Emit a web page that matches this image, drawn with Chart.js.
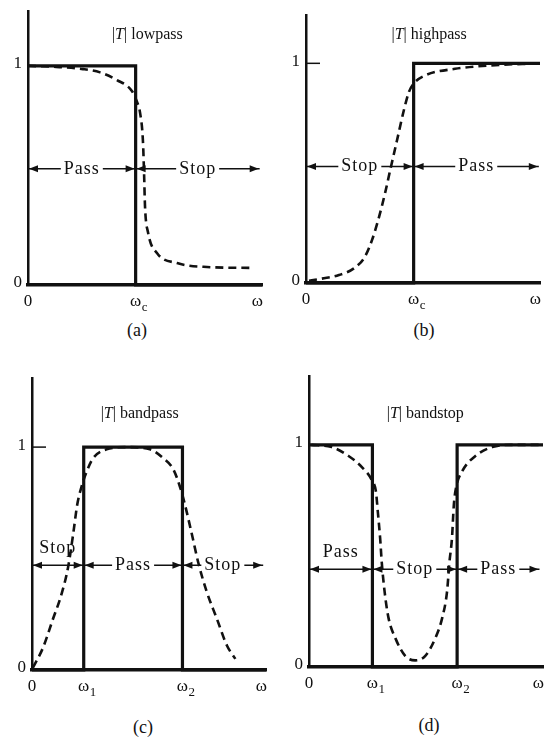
<!DOCTYPE html>
<html>
<head>
<meta charset="utf-8">
<script src="https://cdn.jsdelivr.net/npm/chart.js@4/dist/chart.umd.min.js"></script>
<style>
  html, body { margin: 0; padding: 0; background: #fff; }
  body {
    width: 544px; height: 738px; position: relative; overflow: hidden;
    font-family: "Liberation Serif", "DejaVu Serif", serif; color: #111;
  }
  canvas { position: absolute; }
  .cap { position: absolute; font-size: 18px; transform: translate(-50%, -50%); }
</style>
</head>
<body>
<canvas id="chartA" width="272" height="315" style="left:0;top:0"></canvas>
<canvas id="chartB" width="290" height="315" style="left:272px;top:0"></canvas>
<canvas id="chartC" width="272" height="335" style="left:0;top:365px"></canvas>
<canvas id="chartD" width="290" height="335" style="left:272px;top:365px"></canvas>

<div class="cap" style="left:137px;top:330px">(a)</div>
<div class="cap" style="left:424px;top:330px">(b)</div>
<div class="cap" style="left:143px;top:727px">(c)</div>
<div class="cap" style="left:429px;top:725px">(d)</div>

<script>
/* =========================================================
   DATA
========================================================= */
const yTickValues = [0, 1];
const yTickLabels = ["0", "1"];

// (a) lowpass
const lowCuts       = [4.6];
const lowTickLabels = ["0", "ω_c", "ω"];
const lowIdealX     = [0, 4.6, 4.6, 10];
const lowIdealY     = [1, 1, 0, 0];
const lowRealX      = [0, 1.2, 2.35, 3.08, 3.8, 4.44, 4.66, 4.79, 4.91, 4.96, 5.0, 5.13, 5.51, 6.37, 7.65, 9.49];
const lowRealY      = [1.0, 0.995, 0.985, 0.97, 0.935, 0.885, 0.835, 0.785, 0.66, 0.51, 0.36, 0.24, 0.146, 0.10, 0.082, 0.078];
const lowBands      = ["Pass", "Stop"];
const lowBandEdges  = [0, 4.6, 9.9];

// (b) highpass
const highCuts       = [4.6];
const highTickLabels = ["0", "ω_c", "ω"];
const highIdealX     = [0, 4.6, 4.6, 10];
const highIdealY     = [0, 0, 1, 1];
const highRealX      = [0.13, 0.68, 1.41, 2.09, 2.52, 2.82, 3.12, 3.38, 3.59, 3.89, 4.19, 4.4, 4.62, 5.09, 6.37, 7.82, 9.96];
const highRealY      = [0.01, 0.02, 0.036, 0.07, 0.12, 0.195, 0.30, 0.41, 0.51, 0.65, 0.79, 0.87, 0.91, 0.945, 0.975, 0.99, 1.0];
const highBands      = ["Stop", "Pass"];
const highBandEdges  = [0, 4.6, 9.95];

// (c) bandpass
const bpCuts       = [2.21, 6.43];
const bpTickLabels = ["0", "ω_1", "ω_2", "ω"];
const bpIdealX     = [0, 2.21, 2.21, 6.43, 6.43, 10];
const bpIdealY     = [0, 0, 1, 1, 0, 0];
const bpRealX      = [0.04, 0.47, 0.9, 1.26, 1.54, 1.76, 1.93, 2.11, 2.3, 2.61, 3.19, 4.04, 5.04, 5.61, 6.04, 6.33, 6.54, 6.83, 7.11, 7.47, 7.9, 8.33, 8.69];
const bpRealY      = [0.01, 0.1, 0.23, 0.34, 0.46, 0.61, 0.74, 0.82, 0.88, 0.95, 0.99, 1.0, 0.99, 0.95, 0.9, 0.82, 0.74, 0.61, 0.48, 0.35, 0.23, 0.11, 0.05];
const bpBands      = ["Stop", "Pass", "Stop"];
const bpBandEdges  = [0, 2.21, 6.43, 9.88];

// (d) bandstop
const bsCuts       = [2.71, 6.33];
const bsTickLabels = ["0", "ω_1", "ω_2", "ω"];
const bsIdealX     = [0, 2.71, 2.71, 6.33, 6.33, 10];
const bsIdealY     = [1, 1, 0, 0, 1, 1];
const bsRealX      = [0.1, 0.97, 1.69, 2.26, 2.69, 2.86, 2.94, 3.04, 3.11, 3.23, 3.4, 3.69, 4.11, 4.54, 4.97, 5.4, 5.69, 5.9, 6.0, 6.11, 6.19, 6.29, 6.54, 7.11, 7.83, 8.69, 10];
const bsRealY      = [1.0, 0.99, 0.95, 0.9, 0.84, 0.79, 0.7, 0.58, 0.47, 0.34, 0.22, 0.13, 0.05, 0.03, 0.05, 0.13, 0.22, 0.34, 0.47, 0.58, 0.73, 0.81, 0.88, 0.95, 0.99, 1.0, 1.0];
const bsBands      = ["Pass", "Stop", "Pass"];
const bsBandEdges  = [0, 2.71, 6.33, 9.85];

/* =========================================================
   HELPERS
========================================================= */
const INK   = "#111";
const SERIF = "'Liberation Serif', 'DejaVu Serif', serif";

function zip(xs, ys) {
  return xs.map((x, i) => ({ x, y: ys[i] }));
}

function arrowHead(ctx, x, y, dir) {
  ctx.beginPath();
  ctx.moveTo(x, y);
  ctx.lineTo(x - dir * 9, y - 3.5);
  ctx.lineTo(x - dir * 9, y + 3.5);
  ctx.closePath();
  ctx.fill();
}

// label like "ω_c": main glyph centred on x, subscript to the right
function subLabel(ctx, text, x, y, align) {
  const [main, sub] = text.split("_");
  ctx.font = "17px " + SERIF;
  const w = ctx.measureText(main).width;
  const left = align === "right" ? x - w : x - w / 2;
  ctx.textAlign = "left";
  ctx.textBaseline = "middle";
  ctx.fillText(main, left, y);
  if (sub) {
    ctx.font = "13px " + SERIF;
    ctx.fillText(sub, left + w + 0.5, y + 6);
  }
}

// "|T| lowpass" with an italic T
function titleText(ctx, text, cx, cy) {
  const i = text.indexOf("T");
  const parts = [
    [text.slice(0, i), "16px " + SERIF],
    ["T", "italic 16px " + SERIF],
    [text.slice(i + 1), "16px " + SERIF]
  ];
  let total = 0;
  parts.forEach(p => { ctx.font = p[1]; total += ctx.measureText(p[0]).width; });
  let x = cx - total / 2;
  ctx.textAlign = "left";
  ctx.textBaseline = "middle";
  parts.forEach(p => {
    ctx.font = p[1];
    ctx.fillText(p[0], x, cy);
    x += ctx.measureText(p[0]).width;
  });
}

/* =========================================================
   ANNOTATION PLUGIN (ticks, pass/stop arrows, title)
========================================================= */
const sketchPlugin = {
  id: "sketch",
  afterDatasetsDraw(chart, args, opts) {
    const ctx = chart.ctx;
    const xs = chart.scales.x, ys = chart.scales.y;
    const area = chart.chartArea;
    ctx.save();
    ctx.fillStyle = INK;
    ctx.strokeStyle = INK;

    // y tick labels
    yTickValues.forEach((v, i) => {
      ctx.font = "17px " + SERIF;
      ctx.textAlign = "right";
      ctx.textBaseline = "middle";
      ctx.fillText(yTickLabels[i], area.left - 6, ys.getPixelForValue(v) - 2);
    });

    // small tick at 1 when the ideal curve starts from 0
    if (opts.idealStart === 0) {
      ctx.lineWidth = 1.5;
      ctx.beginPath();
      ctx.moveTo(area.left, ys.getPixelForValue(1));
      ctx.lineTo(area.left + 14, ys.getPixelForValue(1));
      ctx.stroke();
    }

    // x tick labels
    const xTicks = [xs.min, ...opts.cuts, xs.max];
    xTicks.forEach((v, i) => {
      const last = i === xTicks.length - 1;
      const px = xs.getPixelForValue(v);
      subLabel(ctx, opts.tickLabels[i], last ? px + 1 : px, area.bottom + 17, last ? "right" : "center");
    });

    // pass / stop arrows
    const yPx = ys.getPixelForValue(opts.bandY);
    ctx.lineWidth = 1.5;
    ctx.letterSpacing = "1px";
    opts.bands.forEach((label, i) => {
      const x1 = xs.getPixelForValue(opts.edges[i]);
      const x2 = xs.getPixelForValue(opts.edges[i + 1]);
      ctx.font = "18px " + SERIF;
      const tw = ctx.measureText(label).width;
      const above = tw + 8 + 24 > x2 - x1;
      const cx = (x1 + x2) / 2;

      ctx.beginPath();
      if (above) {
        ctx.moveTo(x1, yPx); ctx.lineTo(x2, yPx);
      } else {
        ctx.moveTo(x1, yPx); ctx.lineTo(cx - tw / 2 - 3, yPx);
        ctx.moveTo(cx + tw / 2 + 3, yPx); ctx.lineTo(x2, yPx);
      }
      ctx.stroke();
      arrowHead(ctx, x1 + 1, yPx, -1);
      arrowHead(ctx, x2 - 1, yPx, 1);

      ctx.textAlign = "center";
      ctx.textBaseline = "middle";
      ctx.fillText(label, cx, above ? yPx - 17 : yPx);
    });
    ctx.letterSpacing = "0px";

    // title
    titleText(ctx, opts.title, xs.getPixelForValue(opts.titleAt[0]), ys.getPixelForValue(opts.titleAt[1]));

    ctx.restore();
  }
};

/* =========================================================
   PANEL BUILDER
========================================================= */
function makePanel(id, p) {
  return new Chart(document.getElementById(id), {
    type: "line",
    data: {
      datasets: [{
        data: zip(p.idealX, p.idealY),
        borderColor: INK,
        borderWidth: 3.2,
        borderJoinStyle: "miter",
        pointRadius: 0,
        tension: 0,
        clip: false
      }, {
        data: zip(p.realX, p.realY),
        borderColor: INK,
        borderWidth: 2.6,
        borderDash: [8, 5],
        pointRadius: 0,
        cubicInterpolationMode: "monotone",
        clip: false
      }]
    },
    options: {
      responsive: false,
      animation: false,
      events: [],
      layout: { padding: p.pad },
      plugins: {
        legend: { display: false },
        tooltip: { enabled: false },
        sketch: {
          title: p.title,
          titleAt: p.titleAt,
          cuts: p.cuts,
          tickLabels: p.tickLabels,
          bands: p.bands,
          edges: p.edges,
          bandY: p.bandY,
          idealStart: p.idealY[0]
        }
      },
      scales: {
        x: {
          type: "linear", min: 0, max: 10,
          grid: { display: false, drawTicks: false },
          ticks: { display: false },
          border: { display: true, color: INK, width: 3.5 }
        },
        y: {
          type: "linear", min: 0, max: p.yMax,
          grid: { display: false, drawTicks: false },
          ticks: { display: false },
          border: { display: true, color: INK, width: 2.5 }
        }
      }
    },
    plugins: [sketchPlugin]
  });
}

/* =========================================================
   INIT
========================================================= */
makePanel("chartA", {
  title: "|T| lowpass", titleAt: [5.1, 1.14], yMax: 1.25,
  cuts: lowCuts, tickLabels: lowTickLabels,
  idealX: lowIdealX, idealY: lowIdealY, realX: lowRealX, realY: lowRealY,
  bands: lowBands, edges: lowBandEdges, bandY: 0.53,
  pad: { left: 28, right: 10, top: 11, bottom: 30 }
});

makePanel("chartB", {
  title: "|T| highpass", titleAt: [5.26, 1.13], yMax: 1.22,
  cuts: highCuts, tickLabels: highTickLabels,
  idealX: highIdealX, idealY: highIdealY, realX: highRealX, realY: highRealY,
  bands: highBands, edges: highBandEdges, bandY: 0.53,
  pad: { left: 34, right: 22, top: 15, bottom: 32 }
});

makePanel("chartC", {
  title: "|T| bandpass", titleAt: [4.6, 1.15], yMax: 1.31,
  cuts: bpCuts, tickLabels: bpTickLabels,
  idealX: bpIdealX, idealY: bpIdealY, realX: bpRealX, realY: bpRealY,
  bands: bpBands, edges: bpBandEdges, bandY: 0.47,
  pad: { left: 32, right: 6, top: 13, bottom: 30 }
});

makePanel("chartD", {
  title: "|T| bandstop", titleAt: [4.97, 1.14], yMax: 1.31,
  cuts: bsCuts, tickLabels: bsTickLabels,
  idealX: bsIdealX, idealY: bsIdealY, realX: bsRealX, realY: bsRealY,
  bands: bsBands, edges: bsBandEdges, bandY: 0.44,
  pad: { left: 37, right: 19, top: 11, bottom: 33 }
});
</script>
</body>
</html>
